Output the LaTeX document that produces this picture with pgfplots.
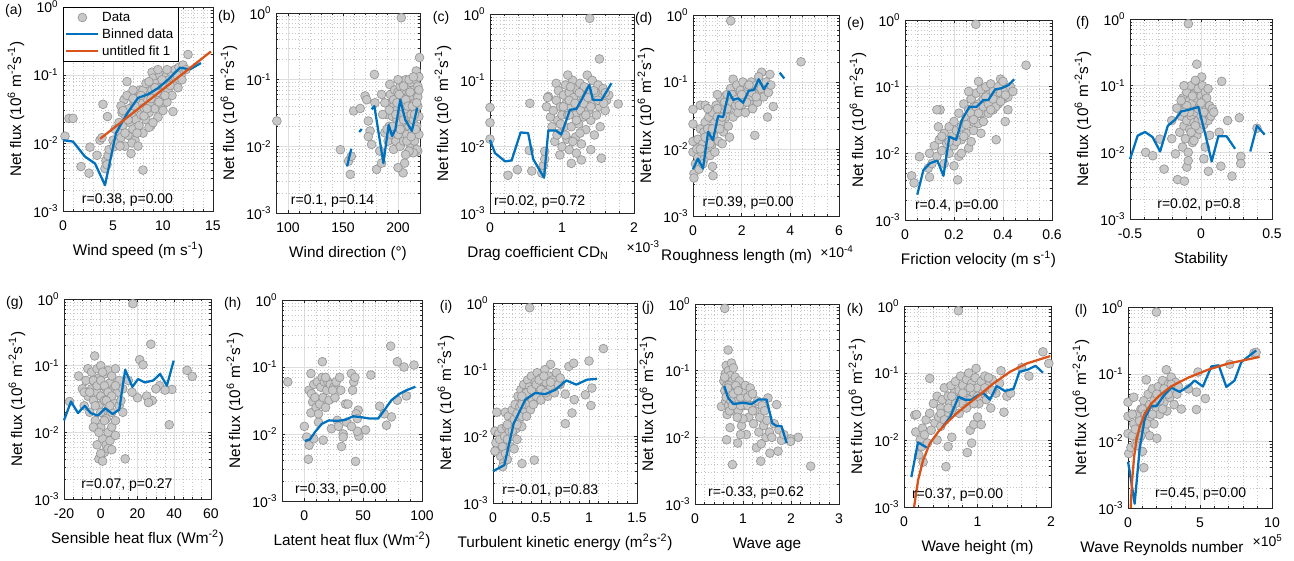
\documentclass[border=0pt]{standalone}
\usepackage{fontspec}
\setmainfont{Liberation Sans}
\usepackage{pgfplots}
\pgfplotsset{compat=1.18}

\definecolor{mblue}{RGB}{0,114,189}
\definecolor{morange}{RGB}{217,83,25}
\definecolor{ptfill}{RGB}{200,200,200}
\definecolor{ptedge}{RGB}{150,150,150}
\definecolor{axgray}{RGB}{38,38,38}

\newcommand{\tk}{\fontsize{10.5}{12}\selectfont}
\newcommand{\lb}{\fontsize{11.5}{13}\selectfont}
\newcommand{\plab}[1]{\node[font=\tk, anchor=east, xshift=-27pt, yshift=-3pt] at (rel axis cs:0,1) {#1};}
\newcommand{\xexp}[3]{\node[font=\tk, anchor=base west, xshift=#2, yshift=#3] at (rel axis cs:1,0) {×10\textsuperscript{#1}};}

% common look of all twelve panels
\pgfplotsset{
  every axis/.append style={
    scale only axis, clip=false, clip marker paths=true, anchor=south west,
    ymode=log, ymin=1e-3, ymax=1,
    ytick={1e-3,1e-2,1e-1,1},
    yticklabels={10\textsuperscript{-3},10\textsuperscript{-2},10\textsuperscript{-1},10\textsuperscript{0}},
    minor ytick={0.002,0.003,0.004,0.005,0.006,0.007,0.008,0.009,
                 0.02,0.03,0.04,0.05,0.06,0.07,0.08,0.09,
                 0.2,0.3,0.4,0.5,0.6,0.7,0.8,0.9},
    grid=both,
    major grid style={draw=black!13, line width=0.5pt},
    minor grid style={draw=black!22, dotted, line width=0.5pt},
    axis line style={draw=axgray, line width=0.5pt},
    tick style={draw=axgray, line width=0.5pt},
    major tick length=2.5pt, minor tick length=1.5pt,
    tick align=inside,
    tick label style={font=\tk, text=black},
    xticklabel style={yshift=-3.5pt},
    label style={font=\lb},
    xlabel style={at={(rel axis cs:0.5,0)}, anchor=base, yshift=-33pt},
    ylabel={Net flux (10\textsuperscript{6} m\textsuperscript{-2}s\textsuperscript{-1})},
  },
}
\tikzset{
  dpts/.style={only marks, mark=*, mark size=3.3pt,
    mark options={fill=ptfill, draw=ptedge, line width=0.5pt}},
  dbin/.style={mark=none, line width=1.7pt, color=mblue, line join=round},
  dfit/.style={mark=none, line width=1.7pt, color=morange, line join=round},
}

\begin{document}
\begin{tikzpicture}
\useasboundingbox (0pt,0pt) rectangle (970.5pt,-420pt);

% ---------------- (a) wind speed ----------------
\begin{axis}[at={(47.25pt,-158.25pt)}, width=112.5pt, height=153pt,
  xmin=0, xmax=15, xtick={0,5,10,15}, xticklabels={0,5,10,15}, minor x tick num=4,
  xlabel={Wind speed (m s\textsuperscript{-1})},
  legend style={at={(0,1)}, anchor=north west, draw=black, fill=white,
    font=\fontsize{10}{12}\selectfont, inner sep=1.5pt},
  legend cell align=left,
  legend image code/.code={\draw[mark repeat=2,mark phase=2,#1]
    plot coordinates {(0pt,0pt) (12pt,0pt) (24pt,0pt)};}]
\addplot[dpts] coordinates {(0.2,0.0126) (0.6,0.023) (1.0,0.023) (1.8,0.0045) (2.6,0.0036)
 (2.7,0.0087) (3.4,0.0066) (3.7,0.011) (3.9,0.012) (4.0,0.037) (4.2,0.0042) (4.45,0.0245)
 (4.3,0.0055) (4.5,0.0065) (4.6,0.008) (4.4,0.0048) (5.0,0.011) (5.1,0.0088) (5.3,0.010)
 (6.4,0.08) (6.1,0.043) (8.0,0.004) (11.0,0.029) (12.5,0.2) (8.9,0.11)
 (5.5,0.015) (5.6,0.02) (5.8,0.012) (5.9,0.028) (6.0,0.018) (6.2,0.009) (6.3,0.024) (6.5,0.013)
 (6.6,0.032) (6.7,0.02) (6.8,0.007) (6.9,0.027) (7.0,0.016) (7.1,0.038) (7.2,0.011) (7.3,0.022)
 (7.4,0.05) (7.5,0.03) (7.6,0.018) (7.7,0.06) (7.8,0.026) (7.9,0.04) (8.0,0.014) (8.1,0.033)
 (8.2,0.055) (8.3,0.022) (8.4,0.045) (8.5,0.07) (8.6,0.028) (8.7,0.038) (8.8,0.018) (8.9,0.06)
 (9.0,0.09) (9.1,0.05) (9.2,0.032) (9.3,0.075) (9.4,0.042) (9.5,0.024) (9.6,0.065) (9.7,0.1)
 (9.8,0.055) (9.9,0.035) (10.0,0.08) (10.1,0.048) (10.2,0.07) (10.3,0.095) (10.4,0.04)
 (10.5,0.06) (10.6,0.085) (10.8,0.11) (10.9,0.05) (11.0,0.075) (11.2,0.12) (11.3,0.09)
 (11.5,0.065) (11.6,0.13) (11.8,0.1) (12.0,0.14) (12.3,0.12) (7.3,0.045) (8.0,0.06)
 (8.6,0.017) (9.0,0.02) (6.4,0.05) (7.0,0.06) (5.8,0.035) (6.9,0.01) (8.3,0.075) (9.5,0.12)
 (10.0,0.03) (7.5,0.009)
 (6.0,0.03) (6.5,0.022) (7.2,0.035) (7.8,0.05) (8.1,0.025) (8.4,0.032) (8.8,0.045) (9.2,0.065)
 (9.6,0.04) (10.2,0.05) (10.7,0.07) (11.4,0.1) (9.9,0.085) (8.6,0.08) (7.4,0.014) (6.2,0.014)
 (5.7,0.009) (5.2,0.016) (10.4,0.12) (11.9,0.085) (9.4,0.055) (7.0,0.045)};
\addlegendentry{Data}
\addplot[dbin] coordinates {(0,0.011) (1.0,0.0105) (2.2,0.0063) (3.2,0.0050) (4.2,0.0024)
 (5.3,0.0140) (6.4,0.027) (7.5,0.046) (8.5,0.052) (9.5,0.064) (10.6,0.088) (11.7,0.128)
 (12.7,0.121) (13.8,0.15)};
\addlegendentry{Binned data}
\addplot[dfit] coordinates {(3.7,0.0115) (14.8,0.222)};
\addlegendentry{untitled fit 1}
\node[font=\tk] at (axis cs:6.45,0.00145) {r=0.38, p=0.00};
\plab{(a)}
\end{axis}

% ---------------- (b) wind direction ----------------
\begin{axis}[at={(207pt,-159.75pt)}, width=108pt, height=150pt,
  xmin=89, xmax=220, xtick={100,150,200}, xticklabels={100,150,200}, minor x tick num=4,
  xlabel={Wind direction (°)}]
\addplot[dpts] coordinates {(89.8,0.024) (147.6,0.0089) (155,0.006) (157.5,0.0071) (156.6,0.0038)
 (159.6,0.034) (165.6,0.037) (170,0.057) (171.5,0.05) (173,0.024) (174.6,0.017) (173,0.014)
 (176,0.0107) (178.5,0.12) (179,0.045) (180.5,0.0045) (183.5,0.0085) (185,0.0056) (188,0.016)
 (192.6,0.085) (194,0.045) (203,0.85) (219.6,0.215) (216.6,0.135) (218,0.0085) (204.6,0.004)
 (200,0.0048) (206,0.0056)
 (190,0.03) (191,0.012) (192,0.02) (193,0.06) (194,0.015) (195,0.028) (196,0.04) (196,0.009)
 (197,0.07) (197,0.018) (198,0.05) (198,0.012) (199,0.025) (199,0.035) (200,0.065) (200,0.015)
 (201,0.045) (201,0.022) (202,0.08) (202,0.01) (203,0.03) (203,0.055) (204,0.018) (204,0.09)
 (205,0.04) (205,0.012) (206,0.07) (206,0.025) (207,0.035) (207,0.1) (208,0.05) (208,0.015)
 (209,0.028) (209,0.075) (210,0.06) (210,0.02) (211,0.04) (211,0.011) (212,0.09) (212,0.03)
 (213,0.055) (213,0.017) (214,0.07) (214,0.025) (215,0.045) (215,0.012) (216,0.1) (216,0.035)
 (217,0.06) (217,0.02) (218,0.08) (218,0.04) (219,0.11) (219,0.028) (219,0.015) (218,0.055)
 (217,0.009) (214,0.008) (210,0.0085) (207,0.0075) (196,0.05) (192,0.035) (200,0.1) (190,0.018)
 (188,0.045) (186,0.03) (185,0.06)
 (195,0.02) (198,0.03) (201,0.06) (203,0.04) (205,0.025) (207,0.05) (209,0.04) (211,0.065)
 (213,0.04) (215,0.03) (217,0.045) (219,0.07) (202,0.018) (208,0.012) (212,0.014) (216,0.018)
 (199,0.045) (205,0.08) (210,0.1) (214,0.11)};
\addplot[dbin] coordinates {(153.6,0.005) (157.5,0.0092)};
\addplot[dbin] coordinates {(164.7,0.0164) (167,0.0182)};
\addplot[dbin] coordinates {(176,0.036) (178.5,0.040) (186.7,0.0056) (191.5,0.021) (194.6,0.0142)
 (197.6,0.018) (202,0.050) (206.6,0.025) (212.6,0.017) (217.5,0.038)};
\node[font=\tk] at (axis cs:140.5,0.0015) {r=0.1, p=0.14};
\plab{(b)}
\end{axis}

% ---------------- (c) drag coefficient ----------------
\begin{axis}[at={(367.5pt,-159.75pt)}, width=108pt, height=149.25pt,
  xmin=0, xmax=2, xtick={0,1,2}, xticklabels={0,1,2}, minor x tick num=4,
  xlabel={Drag coefficient CD\textsubscript{N}}, xlabel style={xshift=-18pt}]
\addplot[dpts] coordinates {(0,0.039) (0,0.023) (0,0.013) (0.25,0.0037) (0.38,0.0045) (0.545,0.0088)
 (0.554,0.045) (0.58,0.0043) (0.72,0.004) (0.74,0.0052) (0.76,0.0065) (0.76,0.0085) (0.785,0.04)
 (0.81,0.057) (0.92,0.09) (1.385,0.86) (1.52,0.21) (1.78,0.044) (1.547,0.0067) (1.27,0.0063)
 (1.13,0.0056) (0.8,0.055) (0.84,0.028)
 (0.86,0.02) (0.88,0.035) (0.9,0.012) (0.92,0.05) (0.94,0.025) (0.95,0.07) (0.96,0.016) (0.98,0.04)
 (1.0,0.03) (1.0,0.01) (1.02,0.06) (1.03,0.02) (1.05,0.085) (1.06,0.045) (1.07,0.013) (1.08,0.03)
 (1.1,0.065) (1.1,0.009) (1.12,0.04) (1.13,0.02) (1.15,0.1) (1.16,0.055) (1.18,0.03) (1.19,0.014)
 (1.2,0.075) (1.22,0.045) (1.23,0.022) (1.25,0.09) (1.26,0.035) (1.27,0.011) (1.28,0.06) (1.3,0.028)
 (1.31,0.08) (1.33,0.018) (1.34,0.05) (1.35,0.12) (1.37,0.035) (1.38,0.07) (1.4,0.025) (1.42,0.1)
 (1.43,0.045) (1.45,0.015) (1.46,0.065) (1.48,0.03) (1.5,0.085) (1.52,0.04) (1.53,0.02) (1.55,0.055)
 (1.57,0.075) (1.6,0.035) (1.62,0.05) (1.65,0.06) (1.4,0.009) (1.2,0.008) (0.97,0.0075) (1.08,0.12)
 (1.12,0.08) (0.93,0.015)
 (1.02,0.04) (1.1,0.05) (1.18,0.045) (1.24,0.065) (1.3,0.045) (1.36,0.055) (1.44,0.07) (1.5,0.05)
 (1.58,0.045) (1.2,0.025) (1.1,0.03) (0.98,0.022) (1.33,0.03) (1.4,0.04) (1.05,0.015) (1.15,0.012)
 (1.25,0.016) (1.6,0.065)};
\addplot[dbin] coordinates {(0,0.0126) (0.07,0.008) (0.21,0.006) (0.3,0.0062) (0.425,0.0164)
 (0.53,0.016) (0.6,0.0065) (0.75,0.0034) (0.81,0.0175) (0.915,0.0175) (0.99,0.0152) (1.06,0.025)
 (1.11,0.036) (1.2,0.037) (1.27,0.0507) (1.38,0.0853) (1.43,0.0507) (1.55,0.0507) (1.686,0.0904)};
\node[font=\tk] at (axis cs:0.688,0.00145) {r=0.02, p=0.72};
\xexp{-3}{-9pt}{-29.5pt}
\plab{(c)}
\end{axis}

% ---------------- (d) roughness length ----------------
\begin{axis}[at={(519.75pt,-162pt)}, width=109.5pt, height=150.75pt,
  xmin=0, xmax=6, xtick={0,2,4,6}, xticklabels={0,2,4,6}, minor x tick num=3,
  xlabel={Roughness length (m)}, xlabel style={xshift=-22pt}]
\addplot[dpts] coordinates {(1.55,0.82) (4.44,0.2) (0,0.039) (0,0.0236) (0,0.013) (0,0.009)
 (0.04,0.0043) (0.04,0.0037) (0.82,0.004) (2.54,0.016) (3.06,0.03) (3.3,0.043) (3.16,0.13)
 (2.82,0.14) (1.65,0.11) (0.3,0.045) (0.5,0.045)
 (0.1,0.006) (0.15,0.01) (0.2,0.0075) (0.2,0.014) (0.25,0.005) (0.3,0.02) (0.35,0.009) (0.4,0.012)
 (0.45,0.007) (0.45,0.018) (0.5,0.025) (0.55,0.01) (0.6,0.014) (0.65,0.03) (0.7,0.008) (0.7,0.02)
 (0.75,0.011) (0.8,0.035) (0.85,0.016) (0.9,0.025) (0.9,0.009) (0.95,0.045) (1.0,0.02) (1.0,0.03)
 (1.05,0.013) (1.1,0.06) (1.15,0.025) (1.2,0.04) (1.25,0.018) (1.3,0.05) (1.35,0.03) (1.4,0.065)
 (1.45,0.022) (1.5,0.04) (1.55,0.08) (1.6,0.05) (1.65,0.03) (1.7,0.065) (1.75,0.045) (1.8,0.09)
 (1.85,0.035) (1.9,0.06) (1.95,0.075) (2.0,0.045) (2.05,0.1) (2.1,0.055) (2.15,0.035) (2.2,0.07)
 (2.25,0.085) (2.3,0.05) (2.35,0.06) (2.4,0.1) (2.45,0.04) (2.5,0.075) (2.55,0.065) (2.6,0.09)
 (2.65,0.05) (2.7,0.12) (2.8,0.08) (2.9,0.06) (3.0,0.1) (3.1,0.07) (3.2,0.09) (1.2,0.012)
 (1.0,0.065) (0.6,0.04) (0.8,0.0055) (1.5,0.015)
 (0.3,0.01) (0.5,0.015) (0.6,0.02) (0.8,0.02) (1.0,0.04) (1.2,0.03) (1.4,0.04) (1.6,0.065)
 (1.8,0.055) (2.0,0.065) (2.2,0.05) (2.4,0.07) (2.6,0.06) (1.1,0.02) (0.7,0.012) (0.4,0.006)
 (1.9,0.045) (2.3,0.09)};
\addplot[dbin] coordinates {(0,0.005) (0.2,0.0072) (0.41,0.0051) (0.62,0.018) (0.82,0.0136)
 (1.03,0.031) (1.24,0.030) (1.47,0.072) (1.65,0.054) (1.85,0.057) (2.06,0.049) (2.29,0.074)
 (2.5,0.076) (2.7,0.11) (2.91,0.078) (3.09,0.098)};
\addplot[dbin] coordinates {(3.56,0.138) (3.75,0.113)};
\node[font=\tk] at (axis cs:2.27,0.00158) {r=0.39, p=0.00};
\xexp{-4}{-17.5pt}{-31pt}
\plab{(d)}
\end{axis}

% ---------------- (e) friction velocity ----------------
\begin{axis}[at={(678.75pt,-165pt)}, width=110.25pt, height=150pt,
  xmin=0, xmax=0.6, xtick={0,0.2,0.4,0.6}, xticklabels={0,0.2,0.4,0.6}, minor x tick num=3,
  xlabel={Friction velocity (m s\textsuperscript{-1})}]
\addplot[dpts] coordinates {(0.289,0.86) (0.494,0.21) (0.027,0.0046) (0.037,0.0036) (0.059,0.0089)
 (0.095,0.006) (0.1,0.0044) (0.136,0.025) (0.143,0.045) (0.215,0.004) (0.372,0.016) (0.409,0.03)
 (0.42,0.045) (0.39,0.13) (0.3,0.12) (0.13,0.045)
 (0.1,0.01) (0.11,0.007) (0.12,0.013) (0.13,0.009) (0.14,0.016) (0.15,0.011) (0.16,0.02)
 (0.16,0.007) (0.17,0.014) (0.18,0.025) (0.18,0.01) (0.19,0.018) (0.2,0.03) (0.2,0.013)
 (0.21,0.022) (0.22,0.009) (0.22,0.04) (0.23,0.016) (0.24,0.028) (0.24,0.055) (0.25,0.02)
 (0.25,0.035) (0.26,0.012) (0.26,0.045) (0.27,0.03) (0.27,0.065) (0.28,0.022) (0.28,0.05)
 (0.29,0.038) (0.29,0.08) (0.3,0.028) (0.3,0.055) (0.31,0.04) (0.31,0.09) (0.32,0.065) (0.32,0.03)
 (0.33,0.05) (0.33,0.1) (0.34,0.075) (0.34,0.04) (0.35,0.06) (0.35,0.11) (0.36,0.085) (0.36,0.045)
 (0.37,0.07) (0.38,0.1) (0.38,0.055) (0.39,0.08) (0.4,0.065) (0.4,0.12) (0.41,0.09) (0.42,0.07)
 (0.43,0.1) (0.44,0.085) (0.2,0.0065) (0.23,0.01) (0.15,0.018) (0.27,0.015) (0.31,0.02) (0.26,0.085)
 (0.21,0.015) (0.23,0.025) (0.25,0.027) (0.27,0.04) (0.29,0.05) (0.3,0.04) (0.32,0.05) (0.34,0.055)
 (0.36,0.065) (0.37,0.05) (0.39,0.06) (0.41,0.075) (0.28,0.032) (0.33,0.07) (0.35,0.045)
 (0.18,0.015) (0.24,0.018)};
\addplot[dbin] coordinates {(0.05,0.0024) (0.075,0.0056) (0.102,0.0071) (0.132,0.0078) (0.157,0.0046)
 (0.181,0.0178) (0.209,0.016) (0.232,0.0316) (0.263,0.05) (0.293,0.05) (0.32,0.063) (0.34,0.063)
 (0.368,0.091) (0.395,0.095) (0.423,0.106) (0.446,0.129)};
\node[font=\tk] at (axis cs:0.211,0.00162) {r=0.4, p=0.00};
\plab{(e)}
\end{axis}

% ---------------- (f) stability ----------------
\begin{axis}[at={(847.5pt,-164.25pt)}, width=106.5pt, height=150pt,
  xmin=-0.5, xmax=0.5, xtick={-0.5,0,0.5}, xticklabels={-0.5,0,0.5}, minor x tick num=4,
  xlabel={Stability}]
\addplot[dpts] coordinates {(-0.089,0.85) (-0.03,0.21) (0.005,0.135) (0.146,0.116) (-0.39,0.01)
 (-0.34,0.0089) (-0.26,0.0056) (-0.18,0.0095) (-0.165,0.0039) (-0.117,0.0037) (0.052,0.0052)
 (0.14,0.0062) (0.218,0.0044) (0.27,0.033) (0.28,0.0087) (0.28,0.0068) (0.187,0.03) (0.128,0.02)
 (0.394,0.023) (-0.29,0.0158) (-0.206,0.016) (-0.17,0.046) (-0.206,0.03)
 (-0.15,0.02) (-0.14,0.035) (-0.13,0.065) (-0.13,0.012) (-0.12,0.025) (-0.11,0.05) (-0.11,0.016)
 (-0.1,0.08) (-0.1,0.03) (-0.09,0.01) (-0.09,0.045) (-0.08,0.022) (-0.08,0.06) (-0.07,0.1)
 (-0.07,0.035) (-0.06,0.014) (-0.06,0.055) (-0.05,0.028) (-0.05,0.075) (-0.04,0.04) (-0.04,0.12)
 (-0.03,0.018) (-0.03,0.065) (-0.02,0.03) (-0.02,0.09) (-0.01,0.05) (-0.01,0.022) (0,0.07)
 (0,0.035) (0.01,0.1) (0.01,0.045) (0.02,0.026) (0.02,0.06) (0.03,0.08) (0.03,0.012) (0.04,0.04)
 (0.04,0.065) (0.05,0.03) (0.05,0.09) (0.06,0.05) (0.07,0.035) (0.08,0.045) (0.09,0.04)
 (-0.1,0.006) (-0.09,0.0075) (-0.12,0.1) (0.02,0.008) (-0.05,0.015) (0.06,0.018)
 (-0.1,0.05) (-0.08,0.04) (-0.06,0.07) (-0.04,0.025) (-0.02,0.045) (0,0.055) (0.02,0.04)
 (-0.12,0.04) (-0.14,0.06) (0.01,0.03) (-0.07,0.02)};
\addplot[dbin] coordinates {(-0.5,0.0079) (-0.446,0.0178) (-0.394,0.0202) (-0.342,0.017)
 (-0.288,0.0103) (-0.234,0.025) (-0.182,0.031) (-0.14,0.041) (-0.076,0.044) (-0.019,0.048)
 (0.028,0.0195) (0.075,0.0073) (0.122,0.0174) (0.18,0.0174) (0.24,0.0113)};
\addplot[dbin] coordinates {(0.347,0.0103) (0.394,0.025) (0.448,0.0184)};
\node[font=\tk] at (axis cs:-0.014,0.00164) {r=0.02, p=0.8};
\plab{(f)}
\end{axis}

% ---------------- (g) sensible heat flux ----------------
\begin{axis}[at={(48pt,-374.25pt)}, width=110.25pt, height=150pt,
  xmin=-20, xmax=60, xtick={-20,0,20,40,60}, xticklabels={-20,0,20,40,60}, minor x tick num=3,
  xlabel={Sensible heat flux (Wm\textsuperscript{-2})}]
\addplot[dpts] coordinates {(17.5,0.85) (27.3,0.21) (21.2,0.123) (23,0.103) (47,0.085) (49.8,0.069)
 (37.3,0.013) (38.7,0.044) (13.3,0.004) (-3.3,0.14) (-17,0.029) (-12,0.07) (-7,0.09) (32,0.05)
 (28,0.03) (25,0.035) (20,0.033) (35,0.043) (30,0.045) (26,0.028) (15,0.06) (17,0.04)
 (-10,0.045) (-9,0.025) (-8,0.06) (-7,0.035) (-6,0.02) (-5,0.08) (-5,0.045) (-4,0.03) (-3,0.055)
 (-3,0.015) (-2,0.09) (-2,0.04) (-1,0.025) (-1,0.065) (0,0.012) (0,0.035) (0,0.1) (1,0.05)
 (1,0.02) (1,0.008) (2,0.075) (2,0.03) (2,0.005) (3,0.045) (3,0.016) (3,0.0065) (4,0.085)
 (4,0.025) (4,0.01) (5,0.055) (5,0.035) (5,0.0075) (6,0.07) (6,0.02) (6,0.012) (7,0.045)
 (7,0.028) (8,0.09) (8,0.015) (8,0.009) (9,0.04) (10,0.06) (10,0.025) (11,0.03) (12,0.045)
 (12,0.02) (-1,0.004) (0,0.0048) (1,0.0037) (-2,0.0065) (4,0.0057) (6,0.0055) (-4,0.012) (-9,0.04)
 (-6,0.04) (-4,0.06) (-2,0.05) (0,0.06) (2,0.05) (4,0.04) (6,0.035) (8,0.05) (0,0.02) (2,0.015)
 (-1,0.01) (3,0.03) (1,0.08) (-3,0.025) (5,0.025)};
\addplot[dbin] coordinates {(-20,0.0151) (-16.2,0.029) (-12.4,0.0195) (-8.7,0.025) (-5.5,0.0195)
 (-1.5,0.0178) (2.4,0.023) (6.5,0.0188) (10.1,0.022) (13.3,0.087) (17.2,0.048) (20.3,0.063)
 (24,0.056) (28.6,0.06) (32.3,0.075) (36,0.05) (39.7,0.119)};
\node[font=\tk] at (axis cs:14.2,0.00164) {r=0.07, p=0.27};
\plab{(g)}
\end{axis}

% ---------------- (h) latent heat flux ----------------
\begin{axis}[at={(211.5pt,-375.75pt)}, width=105pt, height=150.75pt,
  xmin=-19, xmax=100, xtick={0,50,100}, xticklabels={0,50,100}, minor x tick num=4,
  xlabel={Latent heat flux (Wm\textsuperscript{-2})}]
\addplot[dpts] coordinates {(-14.1,0.06) (0,0.013) (3.4,0.0042) (4,0.0068) (5.6,0.0207) (5.6,0.08)
 (15.3,0.12) (16,0.0081) (31.6,0.0065) (43.5,0.0039) (56.5,0.076) (73.4,0.205) (79,0.12)
 (84.7,0.1) (93.2,0.107) (86.7,0.037) (79,0.032) (64,0.026) (69.8,0.0135) (74,0.018) (67.8,0.02)
 (52,0.0115) (46.3,0.0093) (45.8,0.0227)
 (2,0.009) (4,0.045) (6,0.04) (7,0.03) (8,0.055) (9,0.035) (10,0.025) (11,0.06) (12,0.015)
 (13,0.028) (14,0.05) (15,0.07) (16,0.035) (17,0.06) (18,0.025) (19,0.045) (20,0.06) (21,0.032)
 (22,0.055) (23,0.012) (25,0.05) (26,0.035) (27,0.06) (28,0.016) (29,0.013) (30,0.07) (31,0.045)
 (33,0.01) (35,0.028) (36,0.015) (37,0.028) (40,0.08) (41,0.045) (42,0.06) (43,0.07) (44,0.02)
 (45,0.011) (40,0.013) (8,0.0085) (12,0.02) (18,0.07) (24,0.045) (33,0.009) (45,0.017)};
\addplot[dbin] coordinates {(0.5,0.0079) (4.8,0.0083) (9,0.0107) (14.7,0.0141) (20.9,0.016)
 (27.4,0.0157) (34.5,0.0162) (41.5,0.0184) (48.6,0.0178) (55.6,0.017) (62.7,0.017) (68.4,0.0232)
 (74,0.032) (81,0.0398) (86.7,0.045) (94.4,0.0507)};
\node[font=\tk] at (axis cs:30.8,0.00145) {r=0.33, p=0.00};
\plab{(h)}
\end{axis}

% ---------------- (i) turbulent kinetic energy ----------------
\begin{axis}[at={(369.75pt,-377.25pt)}, width=108pt, height=150pt,
  xmin=0, xmax=1.5, xtick={0,0.5,1,1.5}, xticklabels={0,0.5,1,1.5}, minor x tick num=4,
  xlabel={Turbulent kinetic energy (m\textsuperscript{2}s\textsuperscript{-2})}]
\addplot[dpts] coordinates {(0.382,0.85) (1.15,0.207) (1.0,0.135) (0.79,0.112) (0.84,0.125)
 (0.04,0.023) (0.128,0.0082) (0.128,0.023) (0.302,0.0039) (0.43,0.0044) (0.753,0.0155)
 (0.823,0.0224) (0.847,0.0355) (0.962,0.042) (1.03,0.053) (1.02,0.029) (0.753,0.043) (0.6,0.12)
 (0.7,0.06)
 (0.02,0.012) (0.03,0.008) (0.05,0.006) (0.06,0.011) (0.07,0.009) (0.08,0.005) (0.09,0.013)
 (0.1,0.007) (0.11,0.004) (0.12,0.01) (0.13,0.0055) (0.14,0.014) (0.15,0.009) (0.16,0.02)
 (0.17,0.012) (0.18,0.007) (0.19,0.016) (0.2,0.025) (0.21,0.01) (0.22,0.018) (0.23,0.03)
 (0.24,0.013) (0.25,0.022) (0.26,0.04) (0.27,0.017) (0.28,0.028) (0.29,0.05) (0.3,0.02)
 (0.31,0.035) (0.32,0.06) (0.33,0.025) (0.34,0.045) (0.35,0.03) (0.36,0.07) (0.37,0.04)
 (0.38,0.055) (0.39,0.025) (0.4,0.08) (0.41,0.035) (0.42,0.05) (0.44,0.065) (0.45,0.04)
 (0.46,0.09) (0.48,0.055) (0.5,0.035) (0.5,0.075) (0.52,0.05) (0.54,0.1) (0.55,0.065) (0.57,0.04)
 (0.58,0.08) (0.6,0.055) (0.62,0.07) (0.64,0.045) (0.66,0.09) (0.68,0.06) (0.7,0.075) (0.3,0.014)
 (0.22,0.0065) (0.1,0.0035) (0.15,0.0045) (0.02,0.006)
 (0.2,0.012) (0.25,0.015) (0.3,0.03) (0.35,0.045) (0.4,0.05) (0.45,0.06) (0.5,0.05) (0.55,0.045)
 (0.6,0.065) (0.3,0.04) (0.35,0.02) (0.42,0.03) (0.48,0.07) (0.53,0.08) (0.15,0.015) (0.25,0.009)};
\addplot[dbin] coordinates {(0,0.003) (0.118,0.0037) (0.215,0.0155) (0.337,0.0355) (0.44,0.0447)
 (0.545,0.043) (0.65,0.05) (0.764,0.069) (0.868,0.0596) (0.979,0.0708) (1.083,0.073)};
\node[font=\tk] at (axis cs:0.597,0.0015) {r=-0.01, p=0.83};
\plab{(i)}
\end{axis}

% ---------------- (j) wave age ----------------
\begin{axis}[at={(521.25pt,-378pt)}, width=108pt, height=150pt,
  xmin=0, xmax=3, xtick={0,1,2,3}, xticklabels={0,1,2,3}, minor x tick num=4,
  xlabel={Wave age}]
\addplot[dpts] coordinates {(0.62,0.86) (0.69,0.204) (0.78,0.0039) (1.37,0.0044) (2.41,0.0037)
 (2.15,0.01) (1.99,0.0095) (1.99,0.0087) (1.56,0.0058) (1.73,0.0062) (1.7,0.031) (1.52,0.039)
 (0.89,0.0082) (0.66,0.0092) (0.55,0.029)
 (0.6,0.07) (0.62,0.05) (0.63,0.09) (0.64,0.035) (0.65,0.12) (0.66,0.06) (0.67,0.022) (0.68,0.08)
 (0.69,0.045) (0.7,0.1) (0.7,0.03) (0.72,0.065) (0.73,0.014) (0.74,0.085) (0.75,0.05) (0.76,0.13)
 (0.77,0.04) (0.78,0.07) (0.8,0.025) (0.8,0.11) (0.82,0.055) (0.84,0.08) (0.85,0.035) (0.87,0.045)
 (0.88,0.06) (0.9,0.025) (0.92,0.07) (0.95,0.04) (0.97,0.015) (1.0,0.05) (1.02,0.03) (1.05,0.06)
 (1.07,0.011) (1.1,0.04) (1.12,0.02) (1.15,0.055) (1.18,0.03) (1.2,0.045) (1.22,0.016) (1.25,0.025)
 (1.28,0.007) (1.3,0.035) (1.33,0.012) (1.35,0.02) (1.38,0.008) (1.4,0.03) (1.43,0.015) (1.45,0.025)
 (1.48,0.01) (1.5,0.018) (1.55,0.012) (1.6,0.01) (1.65,0.016) (1.75,0.013) (1.8,0.009) (1.85,0.011)
 (1.0,0.019) (0.95,0.011)
 (0.65,0.04) (0.7,0.06) (0.75,0.035) (0.8,0.045) (0.85,0.06) (0.9,0.05) (0.72,0.025) (0.78,0.03)
 (0.68,0.055) (0.62,0.08) (0.95,0.03) (1.1,0.03) (1.2,0.025) (0.88,0.02)};
\addplot[dbin] coordinates {(0.61,0.059) (0.69,0.039) (0.8,0.0316) (1.0,0.033) (1.18,0.0316)
 (1.32,0.037) (1.49,0.037) (1.61,0.0163) (1.7,0.0148) (1.8,0.0148) (1.91,0.0082)};
\node[font=\tk] at (axis cs:1.27,0.00146) {r=-0.33, p=0.62};
\plab{(j)}
\end{axis}

% ---------------- (k) wave height ----------------
\begin{axis}[at={(678pt,-380.25pt)}, width=110.25pt, height=150.75pt,
  xmin=0, xmax=2, xtick={0,1,2}, xticklabels={0,1,2}, minor x tick num=4,
  xlabel={Wave height (m)}]
\addplot[dpts] coordinates {(0.74,0.85) (1.89,0.207) (1.97,0.139) (0.35,0.083) (0.146,0.0235)
 (0.16,0.0132) (0.26,0.0047) (0.57,0.004) (0.86,0.0065) (1.36,0.026) (1.4,0.045) (1.32,0.108)
 (0.98,0.117) (0.17,0.024) (1.6,0.12)
 (0.2,0.006) (0.22,0.01) (0.24,0.008) (0.25,0.015) (0.28,0.012) (0.3,0.02) (0.32,0.009)
 (0.35,0.025) (0.37,0.014) (0.4,0.035) (0.42,0.018) (0.45,0.045) (0.47,0.022) (0.5,0.03)
 (0.52,0.04) (0.55,0.06) (0.57,0.025) (0.6,0.045) (0.62,0.035) (0.64,0.065) (0.66,0.028)
 (0.68,0.05) (0.7,0.075) (0.72,0.04) (0.75,0.055) (0.77,0.09) (0.79,0.035) (0.8,0.065) (0.82,0.045)
 (0.85,0.08) (0.87,0.055) (0.88,0.1) (0.9,0.04) (0.92,0.07) (0.95,0.05) (0.97,0.085) (1.0,0.06)
 (1.02,0.035) (1.05,0.075) (1.07,0.05) (1.1,0.09) (1.12,0.04) (1.15,0.065) (1.18,0.03) (1.2,0.08)
 (1.25,0.05) (1.3,0.07) (0.6,0.008) (0.65,0.011) (0.9,0.014) (0.92,0.009) (0.95,0.017) (1.0,0.022)
 (1.05,0.017) (1.45,0.05) (1.7,0.09) (0.45,0.01) (0.5,0.016)
 (0.5,0.025) (0.6,0.03) (0.7,0.035) (0.8,0.05) (0.9,0.06) (1.0,0.045) (1.1,0.06) (1.2,0.055)
 (0.75,0.025) (0.85,0.03) (0.65,0.045) (0.95,0.035) (1.15,0.085) (0.55,0.02)};
\addplot[dbin] coordinates {(0.1,0.0028) (0.19,0.0092) (0.31,0.0077)};
\addplot[dbin] coordinates {(0.52,0.0154) (0.63,0.0222) (0.74,0.044) (0.83,0.040) (0.92,0.040)
 (1.01,0.047) (1.08,0.050) (1.17,0.040) (1.26,0.0638) (1.37,0.054) (1.49,0.058) (1.57,0.104)
 (1.69,0.113) (1.79,0.128) (1.89,0.101)};
\addplot[dfit] coordinates {(0.137,0.001) (0.191,0.0025) (0.26,0.005) (0.351,0.0089) (0.465,0.0132)
 (0.579,0.018) (0.715,0.0249) (0.852,0.0331) (0.998,0.0441) (1.216,0.0698) (1.444,0.1046)
 (1.672,0.139) (1.99,0.179)};
\node[font=\tk] at (axis cs:0.729,0.0015) {r=0.37, p=0.00};
\plab{(k)}
\end{axis}

% ---------------- (l) wave Reynolds number ----------------
\begin{axis}[at={(846pt,-381pt)}, width=108pt, height=150.75pt,
  xmin=0, xmax=10, xtick={0,5,10}, xticklabels={0,5,10}, minor x tick num=4,
  xlabel={Wave Reynolds number}, xlabel style={xshift=-28.5pt}]
\addplot[dpts] coordinates {(1.97,0.84) (8.75,0.206) (2.66,0.116) (1.27,0.082) (0,0.038) (0,0.0234)
 (0,0.0129) (0.05,0.0065) (1.1,0.004) (4.75,0.0295) (5.37,0.043) (4.75,0.0537) (4.86,0.107)
 (7.06,0.14) (8.9,0.21)
 (0.2,0.008) (0.3,0.012) (0.4,0.018) (0.5,0.009) (0.6,0.025) (0.7,0.015) (0.8,0.011) (0.9,0.03)
 (1.0,0.02) (1.1,0.04) (1.2,0.014) (1.3,0.028) (1.4,0.05) (1.5,0.022) (1.6,0.035) (1.7,0.06)
 (1.8,0.018) (1.9,0.045) (2.0,0.03) (2.1,0.065) (2.2,0.025) (2.3,0.05) (2.4,0.08) (2.5,0.038)
 (2.6,0.055) (2.7,0.028) (2.8,0.07) (2.9,0.045) (3.0,0.09) (3.1,0.06) (3.2,0.035) (3.3,0.075)
 (3.4,0.05) (3.5,0.065) (0.6,0.0085) (0.9,0.012) (1.5,0.012) (2.0,0.011) (1.0,0.007) (3.7,0.03)
 (4.2,0.06) (0.4,0.045) (0.3,0.025)
 (0.5,0.015) (0.8,0.02) (1.0,0.03) (1.2,0.025) (1.5,0.035) (1.8,0.04) (2.0,0.05) (2.2,0.04)
 (2.5,0.06) (2.8,0.05) (3.0,0.07) (1.3,0.018) (1.7,0.025) (2.4,0.03)};
\addplot[dbin] coordinates {(0,0.0049) (0.12,0.0035) (0.46,0.00116) (0.81,0.0077) (1.16,0.0216)
 (1.57,0.033) (1.97,0.033) (2.43,0.046) (3.0,0.0625) (3.59,0.054) (4.17,0.065) (4.63,0.08)
 (5.2,0.065) (5.79,0.13) (6.3,0.135) (6.83,0.064) (7.4,0.08) (7.87,0.151) (8.38,0.184) (8.9,0.225)};
\addplot[dfit] coordinates {(0.185,0.001) (0.28,0.0025) (0.42,0.0057) (0.58,0.0102) (0.81,0.0162)
 (1.16,0.0257) (1.62,0.0363) (2.2,0.048) (3.0,0.0655) (4.17,0.088) (5.56,0.116) (6.94,0.143)
 (9.14,0.18)};
\node[font=\tk] at (axis cs:5.05,0.00164) {r=0.45, p=0.00};
\xexp{5}{-18pt}{-29pt}
\plab{(l)}
\end{axis}
\end{tikzpicture}
\end{document}
